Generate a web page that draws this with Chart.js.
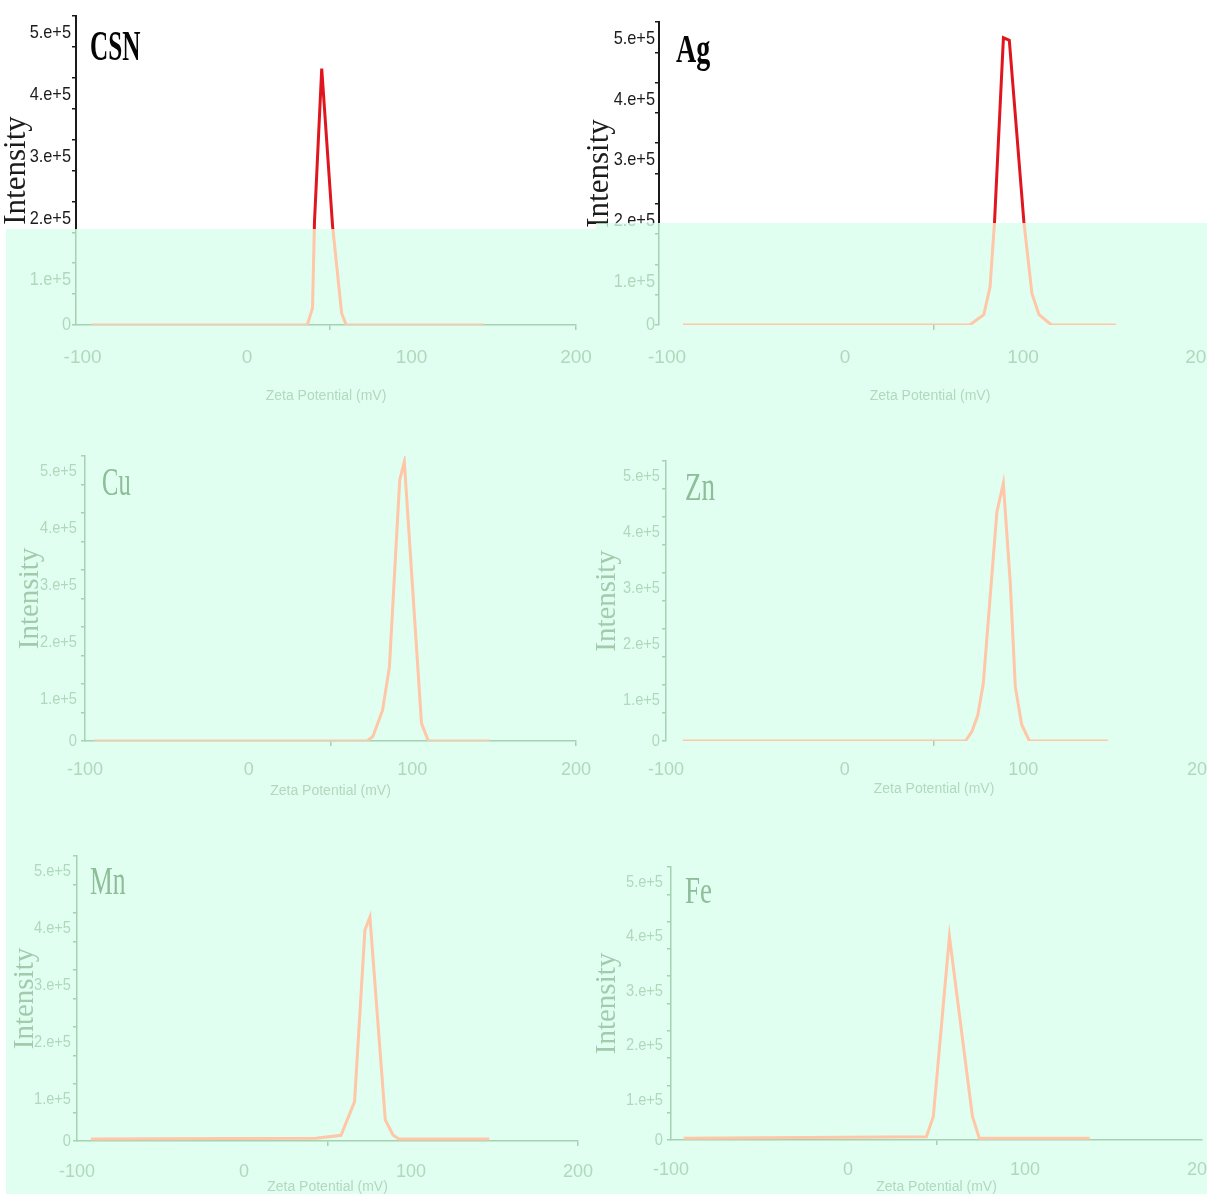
<!DOCTYPE html>
<html>
<head>
<meta charset="utf-8">
<title>Zeta potential distributions</title>
<script src="https://cdn.jsdelivr.net/npm/chart.js@4.4.1/dist/chart.umd.min.js"></script>
<style>
  html, body { margin: 0; padding: 0; background: #fff; }
  body { width: 1207px; height: 1194px; position: relative; overflow: hidden; }
  canvas { position: absolute; }
  .mint { position: absolute; overflow: hidden; background: #e0fff0; }
</style>
</head>
<body>
<script>
// ================= DATA =================
// zeta potential (mV) and intensity for each sample
const csnX = [-94.7, 36.6, 39.8, 41, 45.4, 52, 57.5, 60.3, 144];
const csnY = [0, 0, 0.27e5, 1.67e5, 4.15e5, 1.6e5, 0.19e5, 0, 0];

const agX = [-91, 70, 78, 81.5, 84, 89, 92.3, 100.5, 105, 109, 116, 152.3];
const agY = [0, 0, 0.17e5, 0.63e5, 1.7e5, 4.74e5, 4.7e5, 1.7e5, 0.52e5, 0.17e5, 0, 0];

const cuX = [-94.3, 72.4, 75.9, 81.8, 86, 92.3, 95.1, 105.6, 109.8, 147.3];
const cuY = [0, 0, 0.08e5, 0.54e5, 1.3e5, 4.58e5, 4.9e5, 0.31e5, 0, 0];

const znX = [-90.6, 67.6, 71.2, 74.5, 77.6, 80.4, 85.2, 88.8, 92.7, 95.5, 99.1, 103.4, 147.3];
const znY = [0, 0, 0.17e5, 0.46e5, 1.03e5, 2.16e5, 4.09e5, 4.6e5, 2.82e5, 0.97e5, 0.29e5, 0, 0];

const mnX = [-91.7, 43.1, 58.1, 66.2, 72.4, 75.4, 84.6, 89.3, 92.8, 146.9];
const mnY = [0.035e5, 0.05e5, 0.1e5, 0.69e5, 3.7e5, 3.93e5, 0.37e5, 0.1e5, 0.035e5, 0.035e5];

const feX = [-92.9, 44.3, 48.2, 57.3, 70.3, 74.2, 136.5];
const feY = [0.03e5, 0.06e5, 0.43e5, 3.73e5, 0.43e5, 0.03e5, 0.03e5];

const xTickValues = [-100, -50, 0, 50, 100, 150, 200];
const xTickLabels = ["-100", "", "0", "", "100", "", "200"];

const yTickValues = [0, 0.5e5, 1e5, 1.5e5, 2e5, 2.5e5, 3e5, 3.5e5, 4e5, 4.5e5, 5e5];
const yLabelValues = [0, 1e5, 2e5, 3e5, 4e5, 5e5];
const yLabelTexts = ["0", "1.e+5", "2.e+5", "3.e+5", "4.e+5", "5.e+5"];

const panels = [
  { name: "CSN", bold: true, xs: csnX, ys: csnY },
  { name: "Ag", bold: true, xs: agX, ys: agY },
  { name: "Cu", bold: false, xs: cuX, ys: cuY },
  { name: "Zn", bold: false, xs: znX, ys: znY },
  { name: "Mn", bold: false, xs: mnX, ys: mnY },
  { name: "Fe", bold: false, xs: feX, ys: feY }
];

// ================= LAYOUT (page pixels) =================
const layout = {
  CSN: { cx: 0, cy: 0, cw: 596, ch: 410, left: 76, right: 576, top: 16, bottom: 325, xMin: -104, xMax: 200,
         xBorder: true, xMarks: [50, 200], xPad: 18, xFont: 19, xTitlePad: 7, yTitleSize: 31, yTitlePad: 1.5,
         yLabelSize: 19, yLabelGap: 5, yLabelOff: 17, nameX: 90, nameY: 60, nameSize: 42, nameSx: 0.6, top2: true },
  Ag:  { cx: 580, cy: 0, cw: 627, ch: 410, left: 659, right: 1201, top: 22, bottom: 325, xMin: -104.5, xMax: 200,
         xBorder: false, xMarks: [50], xPad: 18, xFont: 19, xTitlePad: 7, yTitleSize: 31, yTitlePad: 4,
         yLabelSize: 19, yLabelGap: 4, yLabelOff: 17, nameX: 676, nameY: 62, nameSize: 40, nameSx: 0.7, top2: true },
  Cu:  { cx: 0, cy: 410, cw: 596, ch: 400, left: 85, right: 576, top: 456, bottom: 741, xMin: -100, xMax: 200,
         xBorder: true, xMarks: [50, 200], xPad: 15, xFont: 18, xTitlePad: 12, yTitleSize: 29, yTitlePad: 15.5,
         yLabelSize: 17, yLabelGap: 8, yLabelOff: 15, nameX: 102, nameY: 495, nameSize: 41, nameSx: 0.6 },
  Zn:  { cx: 580, cy: 410, cw: 627, ch: 400, left: 666, right: 1202, top: 461, bottom: 741, xMin: -100, xMax: 200,
         xBorder: false, xMarks: [50], xPad: 15, xFont: 18, xTitlePad: 14, yTitleSize: 29, yTitlePad: 12.5,
         yLabelSize: 17, yLabelGap: 6, yLabelOff: 15, nameX: 685, nameY: 500, nameSize: 41, nameSx: 0.66 },
  Mn:  { cx: 0, cy: 810, cw: 596, ch: 384, left: 77, right: 578, top: 856, bottom: 1141, xMin: -100, xMax: 200,
         xBorder: true, xMarks: [50, 200], xPad: 17, xFont: 18, xTitlePad: 0, yTitleSize: 29, yTitlePad: 10.5,
         yLabelSize: 17, yLabelGap: 6, yLabelOff: 15, nameX: 90, nameY: 894, nameSize: 40, nameSx: 0.64 },
  Fe:  { cx: 580, cy: 810, cw: 627, ch: 384, left: 671, right: 1202, top: 867, bottom: 1140, xMin: -100, xMax: 200,
         xBorder: true, xMarks: [50], xPad: 16, xFont: 18, xTitlePad: 0, yTitleSize: 29, yTitlePad: 12.5,
         yLabelSize: 17, yLabelGap: 8, yLabelOff: 15, nameX: 685, nameY: 903, nameSize: 38, nameSx: 0.71 }
};

const mintLeft = { x: 6, y: 229, w: 590, h: 965 };
const mintRight = { x: 596, y: 223, w: 611, h: 971 };

const dark = { line: "#e0161e", axis: "#1a1a1a", axisW: 2, tick: "#1c1c1c", title: "#1c1c1c", yTitle: "#1c1c1c", name: "#050505" };
const faint = { line: "#ffc6a7", axis: "#a6d1b2", axisW: 1.5, tick: "#b0d8bc", title: "#b2d8bd", yTitle: "#a2cbad", name: "#8dbd99" };

const sans = "'Liberation Sans', Arial, sans-serif";
const serif = "'Liberation Serif', 'Times New Roman', serif";

// ================= DRAWING =================
function decor(p, g, pal) {
  return {
    id: "decor",
    afterDraw(chart) {
      const { ctx, chartArea } = chart;
      const ys = chart.scales.y;
      const sx = 0.86;
      ctx.save();
      ctx.fillStyle = pal.tick;
      ctx.font = g.yLabelSize + "px " + sans;
      ctx.textAlign = "right";
      ctx.textBaseline = "middle";
      ctx.scale(sx, 1);
      yLabelValues.forEach((v, i) => {
        const py = ys.getPixelForValue(v) + (v ? g.yLabelOff : 0);
        ctx.fillText(yLabelTexts[i], (chartArea.left - g.yLabelGap) / sx, py);
      });
      ctx.restore();

      ctx.save();
      ctx.fillStyle = pal.name;
      ctx.font = (p.bold ? "bold " : "") + g.nameSize + "px " + serif;
      ctx.textAlign = "left";
      ctx.textBaseline = "alphabetic";
      ctx.translate(g.nameX - g.cx, g.nameY - g.cy);
      ctx.scale(g.nameSx, 1);
      ctx.fillText(p.name, 0, 0);
      ctx.restore();
    }
  };
}

function addChart(parent, offX, offY, p, g, pal) {
  const cv = document.createElement("canvas");
  cv.width = g.cw;
  cv.height = g.ch;
  cv.style.left = (g.cx - offX) + "px";
  cv.style.top = (g.cy - offY) + "px";
  parent.appendChild(cv);

  new Chart(cv.getContext("2d"), {
    type: "line",
    data: {
      datasets: [{
        data: p.xs.map((x, i) => ({ x: x, y: p.ys[i] })),
        borderColor: pal.line,
        borderWidth: 3,
        pointRadius: 0,
        tension: 0,
        fill: false
      }]
    },
    options: {
      responsive: false,
      animation: false,
      devicePixelRatio: 1,
      events: [],
      layout: { padding: { left: 0, top: g.top - g.cy, right: g.cx + g.cw - g.right, bottom: 0 } },
      plugins: { legend: { display: false }, tooltip: { enabled: false } },
      scales: {
        x: {
          type: "linear",
          min: g.xMin,
          max: g.xMax,
          afterBuildTicks: s => { s.ticks = xTickValues.map(v => ({ value: v })); },
          afterFit: s => {
            s.height = g.cy + g.ch - g.bottom;
            s.paddingLeft = 0;
            s.paddingRight = 0;
          },
          border: { display: g.xBorder, color: pal.axis, width: 1.5 },
          grid: {
            drawOnChartArea: false,
            drawTicks: true,
            tickLength: 5,
            lineWidth: 1.5,
            tickColor: c => (c.tick && g.xMarks.includes(c.tick.value) ? pal.axis : "rgba(0,0,0,0)")
          },
          ticks: {
            color: pal.tick,
            font: { family: sans, size: g.xFont, lineHeight: 1 },
            padding: g.xPad,
            maxRotation: 0,
            autoSkip: false,
            callback: (v, i) => xTickLabels[i]
          },
          title: {
            display: true,
            text: "Zeta Potential (mV)",
            color: pal.title,
            font: { family: sans, size: 14, lineHeight: 1 },
            padding: { top: 0, bottom: g.xTitlePad }
          }
        },
        y: {
          type: "linear",
          min: 0,
          max: 5e5,
          afterBuildTicks: s => { s.ticks = yTickValues.map(v => ({ value: v })); },
          afterFit: s => {
            s.width = g.left - g.cx;
            s.paddingTop = 0;
            s.paddingBottom = 0;
          },
          border: { color: pal.axis, width: pal.axisW },
          grid: { drawOnChartArea: false, drawTicks: true, tickLength: 4, lineWidth: 1.5, color: pal.axis },
          ticks: { display: false },
          title: {
            display: true,
            text: "Intensity",
            color: pal.yTitle,
            font: { family: serif, size: g.yTitleSize, lineHeight: 1 },
            padding: { top: g.yTitlePad, bottom: 0 }
          }
        }
      }
    },
    plugins: [decor(p, g, pal)]
  });
}

// top row panels first drawn in their original colours
panels.forEach(p => {
  const g = layout[p.name];
  if (g.top2) addChart(document.body, 0, 0, p, g, dark);
});

// washed-out mint region covering the rest
function makeMint(r) {
  const d = document.createElement("div");
  d.className = "mint";
  d.style.left = r.x + "px";
  d.style.top = r.y + "px";
  d.style.width = r.w + "px";
  d.style.height = r.h + "px";
  document.body.appendChild(d);
  return d;
}
const leftBox = makeMint(mintLeft);
const rightBox = makeMint(mintRight);

panels.forEach(p => {
  const g = layout[p.name];
  const box = g.cx < 300 ? leftBox : rightBox;
  const r = g.cx < 300 ? mintLeft : mintRight;
  addChart(box, r.x, r.y, p, g, faint);
});
</script>
</body>
</html>
